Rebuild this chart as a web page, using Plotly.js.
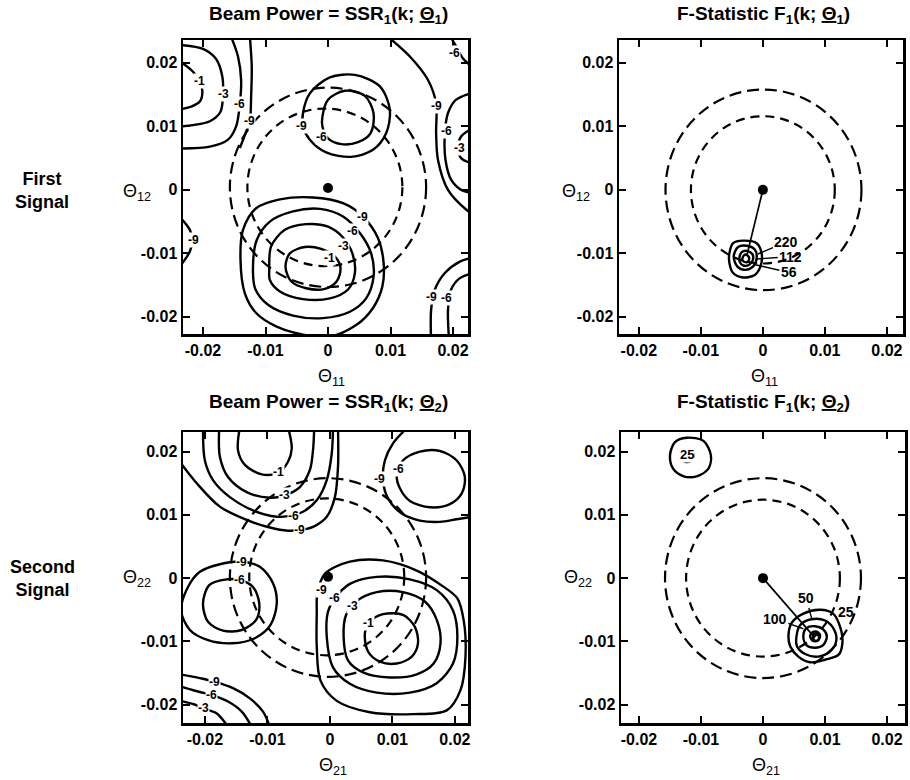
<!DOCTYPE html>
<html>
<head>
<meta charset="utf-8">
<script src="https://cdn.plot.ly/plotly-3.0.1.min.js"></script>
<style>html,body{margin:0;padding:0;background:#fff;}</style>
</head>
<body>
<div id="chart" style="width:910px;height:780px;"></div>
<script>
// ---- axis ticks --------------------------------------------------------
const tickVals = [-0.02, -0.01, 0, 0.01, 0.02];
const tickText = ['-0.02', '-0.01', '0', '0.01', '0.02'];

// ---- Beam power, first signal: [level, x[], y[]] -----------------------
const bp1Contours = [
  [-1, [-0.0235,-0.0216,-0.0205,-0.0201,-0.0205,-0.0219,-0.0235],
       [0.0201,0.0186,0.0171,0.0155,0.0139,0.0131,0.0127]],
  [-3, [-0.0235,-0.0200,-0.0179,-0.0169,-0.0168,-0.0172,-0.0189,-0.0216,-0.0235],
       [0.0228,0.0222,0.0206,0.0178,0.0151,0.0123,0.0108,0.0102,0.0100]],
  [-6, [-0.0155,-0.0144,-0.0139,-0.0141,-0.0147,-0.0160,-0.0189,-0.0235],
       [0.0241,0.0210,0.0173,0.0136,0.0100,0.0079,0.0068,0.0065]],
  [-9, [-0.0125,-0.0122,-0.0123,-0.0125,-0.0132,-0.0141],
       [0.0241,0.0194,0.0147,0.0109,0.0089,0.0066]],
  [-6, [-0.0009,0.0000,0.0027,0.0059,0.0073,0.0068,0.0048,0.0021,0.0000,-0.0009,-0.0009],
       [0.0115,0.0142,0.0156,0.0148,0.0120,0.0089,0.0075,0.0072,0.0081,0.0100,0.0115]],
  [-9, [-0.0040,-0.0029,0.0003,0.0043,0.0083,0.0099,0.0093,0.0072,0.0037,-0.0003,-0.0029,-0.0040,-0.0040],
       [0.0121,0.0152,0.0177,0.0181,0.0163,0.0126,0.0089,0.0063,0.0052,0.0059,0.0079,0.0100,0.0121]],
  [-9, [0.0096,0.0131,0.0160,0.0173,0.0173,0.0176,0.0192,0.0221,0.0235],
       [0.0241,0.0210,0.0173,0.0136,0.0089,0.0047,0.0000,-0.0031,-0.0040]],
  [-6, [0.0235,0.0205,0.0192,0.0187,0.0188,0.0197,0.0213,0.0235],
       [0.0154,0.0142,0.0121,0.0089,0.0047,0.0016,0.0000,-0.0006]],
  [-3, [0.0235,0.0213,0.0208,0.0213,0.0235],
       [0.0099,0.0084,0.0066,0.0050,0.0040]],
  [-6, [0.0196,0.0205,0.0216,0.0235],
       [0.0241,0.0226,0.0207,0.0190]],
  [-9, [-0.0235,-0.0221,-0.0217,-0.0221,-0.0235],
       [-0.0045,-0.0063,-0.0079,-0.0097,-0.0118]],
  [-1, [-0.0068,-0.0061,-0.0037,-0.0011,0.0011,0.0020,0.0014,-0.0005,-0.0035,-0.0059,-0.0068],
       [-0.0121,-0.0100,-0.0090,-0.0093,-0.0105,-0.0123,-0.0144,-0.0156,-0.0155,-0.0144,-0.0121]],
  [-3, [-0.0094,-0.0091,-0.0069,-0.0035,0.0000,0.0024,0.0039,0.0043,0.0032,0.0003,-0.0040,-0.0077,-0.0093,-0.0094],
       [-0.0126,-0.0089,-0.0063,-0.0054,-0.0058,-0.0075,-0.0100,-0.0131,-0.0157,-0.0171,-0.0172,-0.0160,-0.0142,-0.0126]],
  [-6, [-0.0120,-0.0114,-0.0093,-0.0056,-0.0013,0.0024,0.0051,0.0069,0.0073,0.0061,0.0035,-0.0008,-0.0056,-0.0096,-0.0116,-0.0120],
       [-0.0131,-0.0079,-0.0050,-0.0034,-0.0030,-0.0042,-0.0068,-0.0100,-0.0136,-0.0171,-0.0192,-0.0202,-0.0198,-0.0181,-0.0157,-0.0131]],
  [-9, [-0.0140,-0.0136,-0.0115,-0.0077,-0.0024,0.0024,0.0056,0.0080,0.0089,0.0087,0.0072,0.0045,0.0003,-0.0040,-0.0083,-0.0115,-0.0133,-0.0140],
       [-0.0110,-0.0063,-0.0029,-0.0015,-0.0012,-0.0021,-0.0042,-0.0076,-0.0115,-0.0152,-0.0186,-0.0213,-0.0231,-0.0228,-0.0215,-0.0194,-0.0163,-0.0110]],
  [-9, [0.0165,0.0165,0.0171,0.0187,0.0211,0.0235],
       [-0.0240,-0.0189,-0.0157,-0.0131,-0.0113,-0.0106]],
  [-6, [0.0194,0.0192,0.0197,0.0211,0.0235],
       [-0.0240,-0.0189,-0.0157,-0.0139,-0.0130]]
];
const bp1LabelText = ['-1','-3','-6','-9','-9','-6','-9','-6','-3','-6','-9','-9','-6','-3','-1','-9','-6'];
const bp1LabelX = [-0.0206,-0.0168,-0.0142,-0.0125,-0.0043,-0.0011,0.0173,0.0189,0.0210,0.0203,-0.0216,0.0055,0.0039,0.0024,0.0002,0.0165,0.0190];
const bp1LabelY = [0.0171,0.0151,0.0136,0.0109,0.0101,0.0084,0.0132,0.0093,0.0066,0.0215,-0.0079,-0.0043,-0.0064,-0.0089,-0.0107,-0.0168,-0.0170];

// ---- Beam power, second signal ------------------------------------------
const bp2Contours = [
  [-1, [-0.0144,-0.0147,-0.0136,-0.0109,-0.0083,-0.0067,-0.0061,-0.0067],
       [0.0239,0.0202,0.0179,0.0164,0.0166,0.0184,0.0205,0.0239]],
  [-3, [-0.0177,-0.0176,-0.0163,-0.0133,-0.0096,-0.0072,-0.0048,-0.0032,-0.0027,-0.0025],
       [0.0239,0.0192,0.0160,0.0136,0.0127,0.0131,0.0144,0.0171,0.0202,0.0239]],
  [-6, [-0.0203,-0.0200,-0.0187,-0.0160,-0.0123,-0.0085,-0.0067,-0.0043,-0.0021,-0.0005,0.0003,0.0005],
       [0.0239,0.0186,0.0155,0.0128,0.0107,0.0097,0.0098,0.0105,0.0123,0.0155,0.0197,0.0239]],
  [-9, [-0.0240,-0.0213,-0.0176,-0.0133,-0.0096,-0.0067,-0.0048,-0.0027,-0.0005,0.0008,0.0013,0.0013],
       [0.0184,0.0150,0.0113,0.0092,0.0080,0.0075,0.0076,0.0081,0.0097,0.0128,0.0176,0.0239]],
  [-6, [0.0107,0.0117,0.0144,0.0176,0.0203,0.0216,0.0211,0.0192,0.0160,0.0128,0.0112,0.0107],
       [0.0163,0.0186,0.0200,0.0201,0.0186,0.0160,0.0134,0.0117,0.0112,0.0122,0.0142,0.0163]],
  [-9, [0.0125,0.0101,0.0088,0.0085,0.0093,0.0115,0.0144,0.0176,0.0203,0.0229],
       [0.0239,0.0213,0.0186,0.0155,0.0126,0.0102,0.0091,0.0089,0.0093,0.0097]],
  [-6, [-0.0203,-0.0193,-0.0165,-0.0144,-0.0123,-0.0113,-0.0118,-0.0141,-0.0171,-0.0195,-0.0203],
       [-0.0040,-0.0011,-0.0002,-0.0003,-0.0014,-0.0040,-0.0066,-0.0082,-0.0083,-0.0069,-0.0040]],
  [-9, [-0.0238,-0.0227,-0.0208,-0.0176,-0.0141,-0.0112,-0.0091,-0.0085,-0.0095,-0.0120,-0.0157,-0.0195,-0.0224,-0.0238],
       [-0.0051,-0.0014,0.0010,0.0022,0.0026,0.0018,-0.0008,-0.0040,-0.0074,-0.0095,-0.0103,-0.0098,-0.0082,-0.0051]],
  [-9, [-0.0240,-0.0203,-0.0184,-0.0155,-0.0128,-0.0107,-0.0096],
       [-0.0152,-0.0159,-0.0164,-0.0174,-0.0190,-0.0211,-0.0235]],
  [-6, [-0.0240,-0.0208,-0.0189,-0.0163,-0.0141,-0.0125],
       [-0.0171,-0.0180,-0.0185,-0.0195,-0.0211,-0.0235]],
  [-3, [-0.0240,-0.0213,-0.0203,-0.0181,-0.0163],
       [-0.0194,-0.0201,-0.0206,-0.0214,-0.0235]],
  [-1, [0.0056,0.0064,0.0085,0.0117,0.0136,0.0141,0.0131,0.0107,0.0080,0.0061,0.0056],
       [-0.0087,-0.0069,-0.0057,-0.0058,-0.0077,-0.0103,-0.0124,-0.0135,-0.0132,-0.0116,-0.0087]],
  [-3, [0.0022,0.0026,0.0043,0.0075,0.0117,0.0152,0.0171,0.0177,0.0166,0.0139,0.0096,0.0053,0.0029,0.0022],
       [-0.0093,-0.0058,-0.0036,-0.0022,-0.0022,-0.0037,-0.0066,-0.0103,-0.0135,-0.0152,-0.0157,-0.0149,-0.0130,-0.0093]],
  [-6, [-0.0005,-0.0003,0.0008,0.0032,0.0075,0.0128,0.0171,0.0197,0.0204,0.0197,0.0171,0.0128,0.0075,0.0032,0.0005,-0.0005],
       [-0.0093,-0.0053,-0.0032,-0.0009,0.0002,-0.0002,-0.0019,-0.0051,-0.0093,-0.0135,-0.0166,-0.0181,-0.0181,-0.0167,-0.0141,-0.0093]],
  [-9, [-0.0020,-0.0008,0.0032,0.0085,0.0139,0.0181,0.0204,0.0214,0.0217,0.0209,0.0187,0.0133,0.0064,0.0011,-0.0015,-0.0021,-0.0021,-0.0020],
       [-0.0024,0.0007,0.0026,0.0028,0.0012,-0.0013,-0.0032,-0.0066,-0.0124,-0.0177,-0.0209,-0.0215,-0.0212,-0.0194,-0.0162,-0.0108,-0.0056,-0.0024]]
];
const bp2LabelText = ['-1','-3','-6','-9','-9','-6','-6','-9','-9','-6','-3','-1','-3','-6','-9'];
const bp2LabelX = [-0.0083,-0.0072,-0.0059,-0.0048,0.0080,0.0109,-0.0144,-0.0141,-0.0184,-0.0189,-0.0203,0.0062,0.0036,0.0008,-0.0013];
const bp2LabelY = [0.0168,0.0131,0.0098,0.0076,0.0157,0.0173,-0.0003,0.0026,-0.0164,-0.0185,-0.0206,-0.0071,-0.0044,-0.0032,-0.0019];

// ---- F-statistic, first signal ------------------------------------------
const f1Contours = [
  [56,  [-0.0054,-0.0048,-0.0032,-0.0010,-0.0002,-0.0004,-0.0013,-0.0032,-0.0048,-0.0054,-0.0054],
        [-0.0100,-0.0084,-0.0080,-0.0084,-0.0100,-0.0121,-0.0134,-0.0138,-0.0131,-0.0115,-0.0100]],
  [112, [-0.0047,-0.0040,-0.0026,-0.0013,-0.0010,-0.0016,-0.0029,-0.0041,-0.0047],
        [-0.0105,-0.0090,-0.0088,-0.0094,-0.0108,-0.0121,-0.0126,-0.0121,-0.0105]],
  [220, [-0.0038,-0.0034,-0.0026,-0.0017,-0.0016,-0.0022,-0.0032,-0.0037,-0.0038],
        [-0.0108,-0.0098,-0.0096,-0.0101,-0.0110,-0.0118,-0.0119,-0.0114,-0.0108]],
  [440, [-0.0033,-0.0029,-0.0024,-0.0022,-0.0026,-0.0032,-0.0033],
        [-0.0108,-0.0102,-0.0104,-0.0109,-0.0114,-0.0112,-0.0108]]
];
const f1LabelText = ['220', '112', '56'];
const f1LabelX = [0.0038, 0.0045, 0.0042];
const f1LabelY = [-0.0082, -0.0105, -0.0130];
const f1PointerX = [-0.0008, -0.0010, -0.0012];
const f1PointerY = [-0.0101, -0.0109, -0.0118];
const f1PeakX = [0, -0.0026];
const f1PeakY = [0, -0.0104];

// ---- F-statistic, second signal -----------------------------------------
const f2Contours = [
  [25,  [-0.0150,-0.0142,-0.0123,-0.0096,-0.0084,-0.0088,-0.0107,-0.0128,-0.0145,-0.0150],
        [0.0194,0.0215,0.0222,0.0217,0.0194,0.0173,0.0161,0.0161,0.0173,0.0194]],
  [25,  [-0.0133,-0.0126,-0.0117,-0.0112,-0.0114],
        [0.0190,0.0184,0.0185,0.0192,0.0201]],
  [25,  [0.0041,0.0046,0.0065,0.0092,0.0113,0.0125,0.0128,0.0122,0.0100,0.0076,0.0057,0.0044,0.0041],
        [-0.0092,-0.0071,-0.0056,-0.0050,-0.0056,-0.0079,-0.0103,-0.0121,-0.0129,-0.0133,-0.0124,-0.0108,-0.0092]],
  [50,  [0.0054,0.0060,0.0078,0.0100,0.0115,0.0118,0.0108,0.0089,0.0068,0.0055,0.0054],
        [-0.0092,-0.0074,-0.0065,-0.0067,-0.0082,-0.0100,-0.0116,-0.0124,-0.0120,-0.0108,-0.0092]],
  [100, [0.0065,0.0070,0.0084,0.0097,0.0103,0.0097,0.0084,0.0070,0.0065],
        [-0.0092,-0.0079,-0.0076,-0.0081,-0.0092,-0.0106,-0.0110,-0.0106,-0.0092]],
  [200, [0.0076,0.0081,0.0089,0.0092,0.0088,0.0080,0.0076],
        [-0.0091,-0.0085,-0.0086,-0.0092,-0.0099,-0.0099,-0.0091]],
  [400, [0.0082,0.0089,0.0090,0.0084,0.0081,0.0082],
        [-0.0088,-0.0090,-0.0097,-0.0099,-0.0095,-0.0088]]
];
const f2LabelText = ['50', '100', '25'];
const f2LabelX = [0.0070, 0.0019, 0.0134];
const f2LabelY = [-0.0032, -0.0064, -0.0054];
const f2PointerX = [0.0079, 0.0065, 0.0116];
const f2PointerY = [-0.0066, -0.0080, -0.0062];
const f2SmallText = ['25'];
const f2SmallX = [-0.0123];
const f2SmallY = [0.0196];
const f2PeakX = [0, 0.0080];
const f2PeakY = [0, -0.0090];

// ---- dashed circles and centre points per panel -------------------------
const circleX1 = [0.0000, -0.0005], circleY1 = [0.0004, 0.0004], circleR1 = [0.0157, 0.0124];
const circleX2 = [0.0001, 0.0000],  circleY2 = [0.0000, 0.0000], circleR2 = [0.0158, 0.0116];
const circleX3 = [-0.0003, -0.0005], circleY3 = [0.0001, 0.0002], circleR3 = [0.0157, 0.0124];
const circleX4 = [0.0000, 0.0000],  circleY4 = [0.0000, 0.0000], circleR4 = [0.0158, 0.0124];
const centreX = [0.0000, 0.0000, -0.0003, 0.0000];
const centreY = [0.0003, 0.0000, 0.0002, 0.0000];

// ---- figure assembly ----------------------------------------------------
const FONT = 'Liberation Sans, Arial, Helvetica, sans-serif';
const traces = [];
const annotations = [];
const shapes = [];

function addContours(list, xa, ya) {
  list.forEach(function (c) {
    traces.push({
      type: 'scatter', mode: 'lines', x: c[1], y: c[2], xaxis: xa, yaxis: ya,
      name: String(c[0]), showlegend: false, hoverinfo: 'skip',
      line: {color: '#000', width: 2.4, shape: 'spline', smoothing: 0.9}
    });
  });
}
function addLevelLabels(texts, xs, ys, xa, ya) {
  texts.forEach(function (t, i) {
    annotations.push({
      xref: xa, yref: ya, x: xs[i], y: ys[i], text: t, showarrow: false,
      bgcolor: '#fff', borderpad: 0,
      font: {family: FONT, size: 12, color: '#000', weight: 'bold'}
    });
  });
}
function addPointerLabels(texts, xs, ys, px, py, xa, ya) {
  texts.forEach(function (t, i) {
    annotations.push({
      xref: xa, yref: ya, axref: xa, ayref: ya,
      x: px[i], y: py[i], ax: xs[i], ay: ys[i], text: t,
      showarrow: true, arrowhead: 0, arrowwidth: 1.4, arrowcolor: '#000', standoff: 0,
      font: {family: FONT, size: 14, color: '#000', weight: 'bold'}
    });
  });
}
function addCircles(cx, cy, r, xa, ya) {
  const dashes = ['12px,6px', '9px,6px'];
  r.forEach(function (rad, i) {
    shapes.push({
      type: 'circle', xref: xa, yref: ya,
      x0: cx[i] - rad, x1: cx[i] + rad, y0: cy[i] - rad, y1: cy[i] + rad,
      line: {color: '#000', width: 2.2, dash: dashes[i]}
    });
  });
}
function addCentre(i, xa, ya) {
  traces.push({
    type: 'scatter', mode: 'markers', x: [centreX[i]], y: [centreY[i]],
    xaxis: xa, yaxis: ya, showlegend: false, hoverinfo: 'skip',
    marker: {color: '#000', size: 10}
  });
}
function addPeakLine(px, py, xa, ya) {
  traces.push({
    type: 'scatter', mode: 'lines', x: px, y: py, xaxis: xa, yaxis: ya,
    showlegend: false, hoverinfo: 'skip', line: {color: '#000', width: 1.7}
  });
}

addCircles(circleX1, circleY1, circleR1, 'x', 'y');
addCircles(circleX2, circleY2, circleR2, 'x2', 'y2');
addCircles(circleX3, circleY3, circleR3, 'x3', 'y3');
addCircles(circleX4, circleY4, circleR4, 'x4', 'y4');

addContours(bp1Contours, 'x', 'y');
addContours(f1Contours, 'x2', 'y2');
addContours(bp2Contours, 'x3', 'y3');
addContours(f2Contours, 'x4', 'y4');

addPeakLine(f1PeakX, f1PeakY, 'x2', 'y2');
addPeakLine(f2PeakX, f2PeakY, 'x4', 'y4');
addCentre(0, 'x', 'y');
addCentre(1, 'x2', 'y2');
addCentre(2, 'x3', 'y3');
addCentre(3, 'x4', 'y4');

addLevelLabels(bp1LabelText, bp1LabelX, bp1LabelY, 'x', 'y');
addLevelLabels(bp2LabelText, bp2LabelX, bp2LabelY, 'x3', 'y3');
addPointerLabels(f1LabelText, f1LabelX, f1LabelY, f1PointerX, f1PointerY, 'x2', 'y2');
addPointerLabels(f2LabelText, f2LabelX, f2LabelY, f2PointerX, f2PointerY, 'x4', 'y4');
annotations.push({
  xref: 'x4', yref: 'y4', x: f2SmallX[0], y: f2SmallY[0], text: f2SmallText[0],
  showarrow: false, bgcolor: '#fff', borderpad: 0,
  font: {family: FONT, size: 13, color: '#000', weight: 'bold'}
});

// panel titles, axis symbols and row captions (paper coordinates)
const W = 910, H = 780;
function paperText(text, px, py, size, bold) {
  annotations.push({
    xref: 'paper', yref: 'paper', x: px / W, y: 1 - py / H, text: text,
    showarrow: false, xanchor: 'center', yanchor: 'middle',
    font: {family: FONT, size: size, color: '#000', weight: bold ? 'bold' : 'normal'}
  });
}
paperText('Beam Power = SSR<sub>1</sub>(k; <u>Θ</u><sub>1</sub>)', 328, 15, 19, true);
paperText('F-Statistic F<sub>1</sub>(k; <u>Θ</u><sub>1</sub>)', 763, 15, 19, true);
paperText('Beam Power = SSR<sub>1</sub>(k; <u>Θ</u><sub>2</sub>)', 328, 403, 19, true);
paperText('F-Statistic F<sub>1</sub>(k; <u>Θ</u><sub>2</sub>)', 763, 403, 19, true);
paperText('Θ<sub>11</sub>', 331, 377, 18, false);
paperText('Θ<sub>11</sub>', 764, 377, 18, false);
paperText('Θ<sub>21</sub>', 333, 766, 18, false);
paperText('Θ<sub>21</sub>', 766, 766, 18, false);
paperText('Θ<sub>12</sub>', 137, 192, 18, false);
paperText('Θ<sub>12</sub>', 576, 192, 18, false);
paperText('Θ<sub>22</sub>', 137, 578, 18, false);
paperText('Θ<sub>22</sub>', 578, 578, 18, false);
paperText('First<br>Signal', 42, 190, 18, true);
paperText('Second<br>Signal', 42, 578, 18, true);

function axis(range, d0, d1, anchor) {
  return {
    range: range, domain: [d0, d1], anchor: anchor,
    showline: true, linecolor: '#000', linewidth: 2.5, mirror: 'ticks',
    ticks: 'inside', ticklen: 7, tickwidth: 2, tickcolor: '#000',
    tickmode: 'array', tickvals: tickVals, ticktext: tickText,
    tickfont: {family: FONT, size: 16, color: '#000', weight: 'bold'},
    showgrid: false, zeroline: false, fixedrange: true
  };
}

const layout = {
  width: W, height: H, margin: {l: 0, r: 0, t: 0, b: 0},
  paper_bgcolor: '#fff', plot_bgcolor: '#fff', showlegend: false,
  xaxis:  axis([-0.0232, 0.0224], 183 / W, 468 / W, 'y'),
  yaxis:  axis([-0.0227, 0.0236], 1 - 334 / H, 1 - 40 / H, 'x'),
  xaxis2: axis([-0.0232, 0.0226], 619 / W, 903 / W, 'y2'),
  yaxis2: axis([-0.0227, 0.0236], 1 - 334 / H, 1 - 40 / H, 'x2'),
  xaxis3: axis([-0.0235, 0.0221], 183 / W, 468 / W, 'y3'),
  yaxis3: axis([-0.0229, 0.0231], 1 - 723 / H, 1 - 432 / H, 'x3'),
  xaxis4: axis([-0.0229, 0.0229], 621 / W, 905 / W, 'y4'),
  yaxis4: axis([-0.0229, 0.0231], 1 - 723 / H, 1 - 432 / H, 'x4'),
  shapes: shapes,
  annotations: annotations
};

Plotly.newPlot('chart', traces, layout, {displayModeBar: false, staticPlot: true});
</script>
</body>
</html>
